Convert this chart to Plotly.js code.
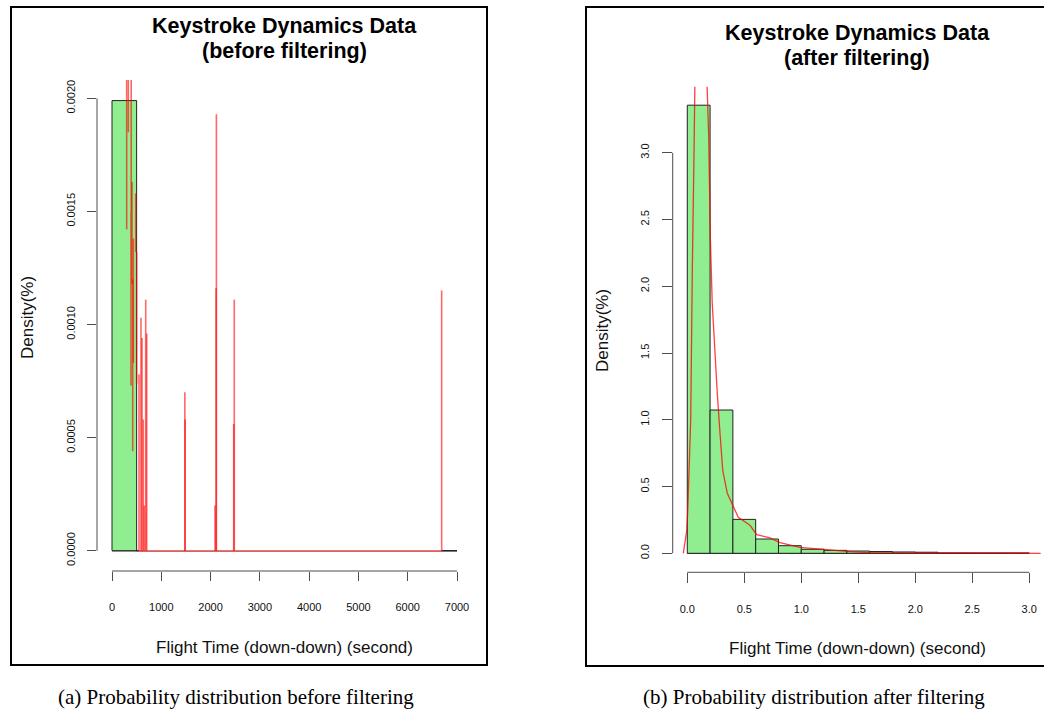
<!DOCTYPE html>
<html>
<head>
<meta charset="utf-8">
<script src="https://cdn.plot.ly/plotly-3.0.1.min.js"></script>
<style>html,body{margin:0;padding:0;background:#fff;}#chart{width:1044px;height:710px;}</style>
</head>
<body>
<div id="chart"></div>
<script>
// ---------- data: before filtering (milliseconds) ----------
const breaksBefore = [0,500,1000,1500,2000,2500,3000,3500,4000,4500,5000,5500,6000,6500,7000];
const histBefore   = [0.00199,0,0,0,0,0,0,0,0,0,0,0,0,0];
// density spikes: position, lower end, upper end
const spikeBeforeX    = [298,331,390,385,406,420,433,481,500,548,588,609,635,656,684,704,1478,1484,2090,2112,2118,2469,2481,6689];
const spikeBeforeLow  = [0.00142,0.00185,0.00150,0.00073,0.00118,0.00044,0.00083,0.00132,0.00074,0,0,0,0,0,0,0,0,0,0,0,0,0,0,0];
const spikeBeforeHigh = [0.0025,0.0025,0.0025,0.00150,0.00163,0.00120,0.00138,0.00158,0.00132,0.00078,0.00103,0.00094,0.00058,0.00020,0.00111,0.00096,0.00070,0.00058,0.00020,0.00116,0.00193,0.00056,0.00111,0.00115];
const baselineBeforeX = [540,6689];
const xTicksBefore = [0,1000,2000,3000,4000,5000,6000,7000];
const xTickTextBefore = ['0','1000','2000','3000','4000','5000','6000','7000'];
const yTicksBefore = [0,0.0005,0.001,0.0015,0.002];
const yTickTextBefore = ['0.0000','0.0005','0.0010','0.0015','0.0020'];

// ---------- data: after filtering (seconds) ----------
const breaksAfter = [0,0.2,0.4,0.6,0.8,1.0,1.2,1.4,1.6,1.8,2.0,2.2,2.4,2.6,2.8,3.0];
const histAfter   = [3.356,1.073,0.254,0.107,0.057,0.030,0.022,0.017,0.013,0.010,0.008,0,0,0,0];
const densAfterX = [-0.035,-0.005,0.004,0.030,0.044,0.053,0.059,0.068,0.085,0.10,0.13,0.17,0.188,0.193,0.202,0.219,0.243,0.263,0.281,0.311,0.351,0.404,0.447,0.55,0.609,0.725,0.813,0.988,1.163,1.426,1.60,1.86,2.30,2.75,3.10];
const densAfterY = [0,0.17,0.32,1.00,2.12,2.50,3.00,3.60,4.10,4.30,4.10,3.60,3.12,2.70,2.37,1.87,1.45,1.20,0.97,0.62,0.45,0.35,0.27,0.21,0.14,0.115,0.08,0.045,0.030,0.012,0.005,0.003,0.001,0.001,0];
const xTicksAfter = [0,0.5,1.0,1.5,2.0,2.5,3.0];
const xTickTextAfter = ['0.0','0.5','1.0','1.5','2.0','2.5','3.0'];
const yTicksAfter = [0,0.5,1.0,1.5,2.0,2.5,3.0];
const yTickTextAfter = ['0.0','0.5','1.0','1.5','2.0','2.5','3.0'];

// ---------- helpers ----------
const W = 1044, H = 710;
const px = v => v / W;
const py = v => 1 - v / H;
function centers(b){ const c=[]; for(let i=0;i<b.length-1;i++) c.push((b[i]+b[i+1])/2); return c; }
function widths(b){ const w=[]; for(let i=0;i<b.length-1;i++) w.push(b[i+1]-b[i]); return w; }
const spikeX = [], spikeY = [];
for (let i=0;i<spikeBeforeX.length;i++){
  spikeX.push(spikeBeforeX[i], spikeBeforeX[i], null);
  spikeY.push(spikeBeforeLow[i], spikeBeforeHigh[i], null);
}

const green = '#90EE90';
const axisCol = '#4d4d4d';
const tickFont = {family:'Liberation Sans, Arial, sans-serif', size:11, color:'#111'};

const traces = [
  {type:'bar', x:centers(breaksBefore), y:histBefore, width:widths(breaksBefore),
   xaxis:'x', yaxis:'y', marker:{color:green, line:{color:'#222', width:1}}, hoverinfo:'skip'},
  {type:'scatter', mode:'lines', x:baselineBeforeX, y:[0,0],
   xaxis:'x', yaxis:'y', line:{color:'#ff6b6b', width:1.6}, hoverinfo:'skip'},
  {type:'scatter', mode:'lines', x:spikeX, y:spikeY, connectgaps:false,
   xaxis:'x', yaxis:'y', line:{color:'rgba(255,0,0,0.6)', width:1.6}, hoverinfo:'skip'},
  {type:'bar', x:centers(breaksAfter), y:histAfter, width:widths(breaksAfter),
   xaxis:'x2', yaxis:'y2', marker:{color:green, line:{color:'#222', width:1}}, hoverinfo:'skip'},
  {type:'scatter', mode:'lines', x:densAfterX, y:densAfterY,
   xaxis:'x2', yaxis:'y2', line:{color:'rgba(255,0,0,0.75)', width:1.3}, hoverinfo:'skip'}
];

function xAxis(domain, range, vals, text, len, standoff){
  return {domain:domain, range:range, showgrid:false, zeroline:false, showline:false,
    ticks:'outside', ticklen:len, tickwidth:1, tickcolor:axisCol,
    tickvals:vals, ticktext:text, tickfont:tickFont, ticklabelstandoff:standoff, fixedrange:true};
}
function yAxis(domain, range, vals, text, len){
  return {domain:domain, range:range, showgrid:false, zeroline:false, showline:false,
    ticks:'outside', ticklen:len, tickwidth:1, tickcolor:axisCol, tickangle:-90,
    tickvals:vals, ticktext:text, tickfont:tickFont, ticklabelstandoff:8, fixedrange:true};
}

const shapes = [
  // panel frames
  {type:'rect', xref:'paper', yref:'paper', x0:px(11), x1:px(487), y0:py(665), y1:py(7), line:{color:'#000', width:2}},
  {type:'rect', xref:'paper', yref:'paper', x0:px(586), x1:px(1060), y0:py(666), y1:py(7), line:{color:'#000', width:2}},
  // R-style axis lines spanning the tick range
  {type:'line', xref:'x', yref:'y domain', x0:xTicksBefore[0], x1:xTicksBefore[xTicksBefore.length-1], y0:0, y1:0, line:{color:axisCol, width:1}},
  {type:'line', xref:'x domain', yref:'y', x0:0, x1:0, y0:yTicksBefore[0], y1:yTicksBefore[yTicksBefore.length-1], line:{color:axisCol, width:1}},
  {type:'line', xref:'x2', yref:'y2 domain', x0:xTicksAfter[0], x1:xTicksAfter[xTicksAfter.length-1], y0:0, y1:0, line:{color:axisCol, width:1}},
  {type:'line', xref:'x2 domain', yref:'y2', x0:0, x1:0, y0:yTicksAfter[0], y1:yTicksAfter[yTicksAfter.length-1], line:{color:axisCol, width:1}},
  // zero-height histogram cells (baseline)
  {type:'line', layer:'below', xref:'x', yref:'y', x0:breaksBefore[0], x1:breaksBefore[breaksBefore.length-1], y0:0, y1:0, line:{color:'#555', width:1.5}},
  {type:'line', layer:'below', xref:'x2', yref:'y2', x0:breaksAfter[0], x1:breaksAfter[breaksAfter.length-1], y0:0, y1:0, line:{color:'#555', width:1.5}}
];

const titleFont = {family:'Liberation Sans, Arial, sans-serif', size:21.5, color:'#000', weight:'bold'};
const labFont = {family:'Liberation Sans, Arial, sans-serif', size:17, color:'#111'};
const capFont = {family:'Liberation Serif, Times New Roman, serif', size:21, color:'#000'};
function ann(text, x, y, font, angle){
  return {text:text, xref:'paper', yref:'paper', x:px(x), y:py(y), xanchor:'center', yanchor:'middle',
    showarrow:false, font:font, textangle:angle||0};
}
const annotations = [
  ann('<b>Keystroke Dynamics Data</b>', 284, 26, titleFont),
  ann('<b>(before filtering)</b>', 284, 51, titleFont),
  ann('<b>Keystroke Dynamics Data</b>', 857, 33, titleFont),
  ann('<b>(after filtering)</b>', 857, 58, titleFont),
  ann('Flight Time (down-down) (second)', 284, 647, labFont),
  ann('Flight Time (down-down) (second)', 857, 648, labFont),
  ann('Density(%)', 27, 318, labFont, -90),
  ann('Density(%)', 602, 331, labFont, -90),
  ann('(a) Probability distribution before filtering', 236, 697, capFont),
  ann('(b) Probability distribution after filtering', 814, 697, capFont)
];

const layout = {
  width:W, height:H, margin:{l:0,r:0,t:0,b:0},
  paper_bgcolor:'#fff', plot_bgcolor:'rgba(0,0,0,0)',
  showlegend:false, bargap:0,
  xaxis: xAxis([px(97), px(471)], [-304.3, 7284], xTicksBefore, xTickTextBefore, 9, 17),
  yaxis: yAxis([py(571), py(80)], [-0.0000897, 0.002081], yTicksBefore, yTickTextBefore, 9),
  xaxis2: Object.assign(xAxis([px(672.7), px(1041)], [-0.128, 3.103], xTicksAfter, xTickTextAfter, 10, 16), {anchor:'y2'}),
  yaxis2: Object.assign(yAxis([py(572.3), py(86.7)], [-0.1423, 3.4945], yTicksAfter, yTickTextAfter, 10), {anchor:'x2'}),
  shapes:shapes, annotations:annotations
};
layout.xaxis.anchor = 'y';
layout.yaxis.anchor = 'x';

Plotly.newPlot('chart', traces, layout, {staticPlot:true, displayModeBar:false});
</script>
</body>
</html>
